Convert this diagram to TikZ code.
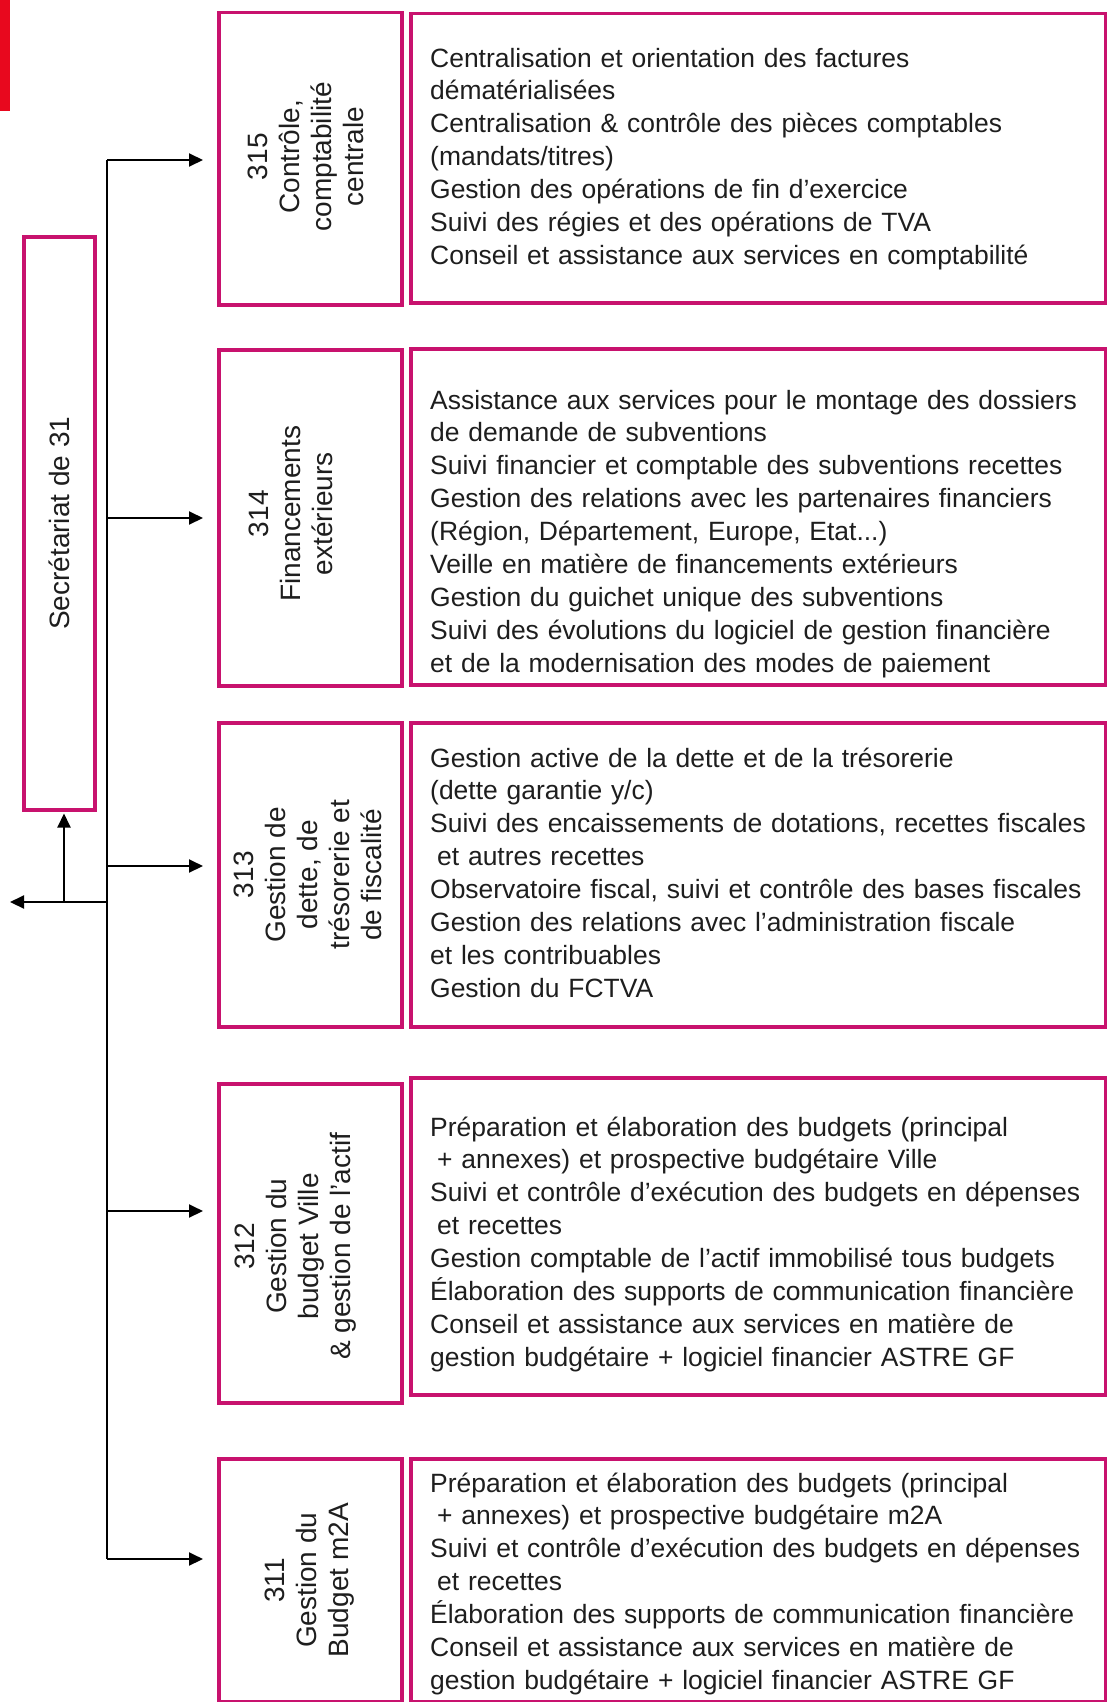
\documentclass[tikz,border=0pt]{standalone}
\usepackage{fontspec}
\setmainfont{Liberation Sans}
\usetikzlibrary{arrows.meta}
\definecolor{frame}{RGB}{200,18,110}
\definecolor{redmark}{RGB}{232,8,30}
\definecolor{ink}{RGB}{30,30,30}
\begin{document}
\begin{tikzpicture}[x=1pt,y=-1pt,
  unitbox/.style={draw=frame, line width=3.5pt, rectangle, inner sep=0pt, anchor=north west},
  conn/.style={draw=black, line width=2pt},
  arr/.style={conn, -{Triangle[length=14pt,width=13pt]}},
  lbl/.style={rotate=90, align=center, font=\fontsize{28}{32}\selectfont, text=ink, inner sep=0pt},
  desc/.style={anchor=base west, text width=700pt, align=left, font=\fontsize{26.45}{32.9}\selectfont, text=ink, inner sep=0pt}]
\useasboundingbox (0,0) rectangle (1106,1702);
\fill[white] (0,0) rectangle (1106,1702);
\fill[redmark] (0,0) rectangle (10,111);

% secretariat
\node[unitbox, minimum width=71pt, minimum height=573pt] (sec) at (22,235) {};
\node[lbl] (seclbl) at (sec.center) {Secrétariat de 31};

% left unit boxes
\node[unitbox, minimum width=183pt, minimum height=292pt] (b315) at (217,11) {};
\node[unitbox, minimum width=183pt, minimum height=336pt] (b314) at (217,348) {};
\node[unitbox, minimum width=183pt, minimum height=304pt] (b313) at (217,721) {};
\node[unitbox, minimum width=183pt, minimum height=319pt] (b312) at (217,1082) {};
\node[unitbox, minimum width=183pt, minimum height=243pt] (b311) at (217,1457) {};

\node[lbl] (l315) at ([xshift=-4pt,yshift=2pt]b315.center) {315\\Contrôle,\\comptabilité\\centrale};
\node[lbl] (l314) at ([xshift=-19pt,yshift=4pt]b314.center) {314\\Financements\\extérieurs};
\node[lbl] (l313) at ([xshift=-2pt,yshift=0pt]b313.center) {313\\Gestion de\\dette, de\\trésorerie et\\de fiscalité};
\node[lbl] (l312) at ([xshift=-15pt,yshift=-3pt]b312.center) {312\\Gestion du\\budget Ville\\\& gestion de l’actif};
\node[lbl] (l311) at ([xshift=-1pt,yshift=0pt]b311.center) {311\\Gestion du\\Budget m2A};

% right description boxes
\node[unitbox, minimum width=695pt, minimum height=289pt] (d315) at (409,12) {};
\node[unitbox, minimum width=695pt, minimum height=336pt] (d314) at (409,347) {};
\node[unitbox, minimum width=695pt, minimum height=304pt] (d313) at (409,721) {};
\node[unitbox, minimum width=695pt, minimum height=317pt] (d312) at (409,1076) {};
\node[unitbox, minimum width=695pt, minimum height=243pt] (d311) at (409,1457) {};

\node[desc] (t315) at (430,67) {Centralisation et orientation des factures\\
dématérialisées\\
Centralisation \& contrôle des pièces comptables\\
(mandats/titres)\\
Gestion des opérations de fin d’exercice\\
Suivi des régies et des opérations de TVA\\
Conseil et assistance aux services en comptabilité};

\node[desc] (t314) at (430,409) {Assistance aux services pour le montage des dossiers\\
de demande de subventions\\
Suivi financier et comptable des subventions recettes\\
Gestion des relations avec les partenaires financiers\\
(Région, Département, Europe, Etat...)\\
Veille en matière de financements extérieurs\\
Gestion du guichet unique des subventions\\
Suivi des évolutions du logiciel de gestion financière\\
et de la modernisation des modes de paiement};

\node[desc] (t313) at (430,767) {Gestion active de la dette et de la trésorerie\\
(dette garantie y/c)\\
Suivi des encaissements de dotations, recettes fiscales\\
\hspace*{7pt}et autres recettes\\
Observatoire fiscal, suivi et contrôle des bases fiscales\\
Gestion des relations avec l’administration fiscale\\
et les contribuables\\
Gestion du FCTVA};

\node[desc] (t312) at (430,1136) {Préparation et élaboration des budgets (principal\\
\hspace*{7pt}+ annexes) et prospective budgétaire Ville\\
Suivi et contrôle d’exécution des budgets en dépenses\\
\hspace*{7pt}et recettes\\
Gestion comptable de l’actif immobilisé tous budgets\\
Élaboration des supports de communication financière\\
Conseil et assistance aux services en matière de\\
gestion budgétaire + logiciel financier ASTRE GF};

\node[desc] (t311) at (430,1492) {Préparation et élaboration des budgets (principal\\
\hspace*{7pt}+ annexes) et prospective budgétaire m2A\\
Suivi et contrôle d'exécution des budgets en dépenses\\
\hspace*{7pt}et recettes\\
Élaboration des supports de communication financière\\
Conseil et assistance aux services en matière de\\
gestion budgétaire + logiciel financier ASTRE GF};

% connectors
\coordinate (j5) at (107,160);
\coordinate (j4) at (107,518);
\coordinate (j3) at (107,866);
\coordinate (jm) at (107,902);
\coordinate (j2) at (107,1211);
\coordinate (j1) at (107,1559);
\coordinate (js) at (64,902);
\coordinate (out) at (10,902);

\draw[conn] (j5) -- (j1);
\draw[arr, shorten >=14pt] (j5) -- (j5 -| b315.west);
\draw[arr, shorten >=14pt] (j4) -- (j4 -| b314.west);
\draw[arr, shorten >=14pt] (j3) -- (j3 -| b313.west);
\draw[arr, shorten >=14pt] (j2) -- (j2 -| b312.west);
\draw[arr, shorten >=14pt] (j1) -- (j1 -| b311.west);
\draw[arr] (jm) -- (out);
\draw[arr, shorten >=2pt] (js) -- (js |- sec.south);
\end{tikzpicture}
\end{document}
